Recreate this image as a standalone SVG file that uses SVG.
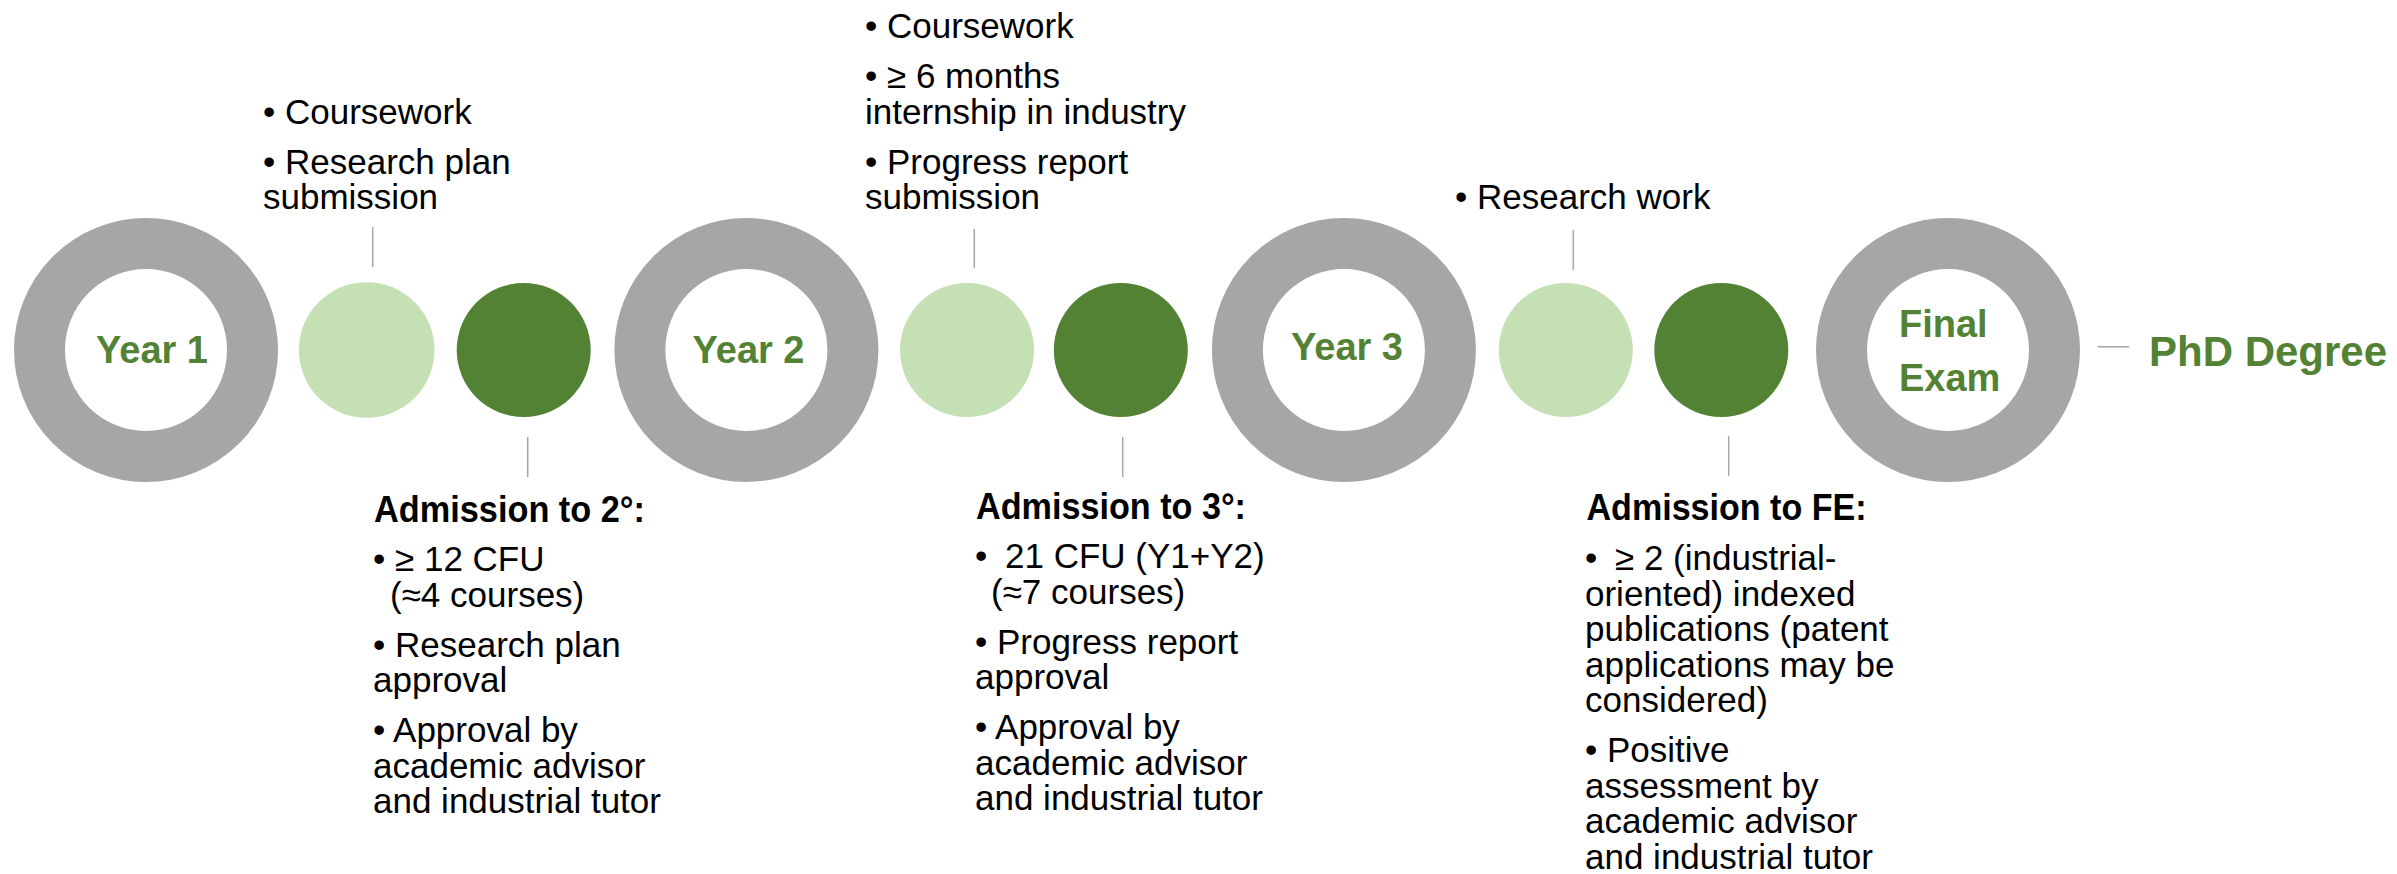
<svg xmlns="http://www.w3.org/2000/svg" width="2397" height="874" viewBox="0 0 2397 874">
<style>
.ring{fill:#fff;stroke:#a6a6a6;stroke-width:51}
.light{fill:#c5e0b4}
.dark{fill:#548235}
.lbl{font-family:"Liberation Sans",Arial,sans-serif;font-weight:bold;font-size:38px;fill:#548235}
.txt{font-family:"Liberation Sans",Arial,sans-serif;font-size:35px;fill:#000}
.hd{font-family:"Liberation Sans",Arial,sans-serif;font-weight:bold;font-size:36px;fill:#000}
.con{stroke:#a6a6a6;stroke-width:1.5;fill:none}
</style>
<rect width="2397" height="874" fill="#fff"/>
<g id="connectors">
<line class="con" x1="372.7" y1="227" x2="372.7" y2="267"/>
<line class="con" x1="527.7" y1="437" x2="527.7" y2="477"/>
<line class="con" x1="974.3" y1="229" x2="974.3" y2="268"/>
<line class="con" x1="1122.7" y1="437" x2="1122.7" y2="477"/>
<line class="con" x1="1573.3" y1="230" x2="1573.3" y2="270"/>
<line class="con" x1="1728.7" y1="436" x2="1728.7" y2="476"/>
<line class="con" x1="2097.7" y1="346.7" x2="2129.3" y2="346.7"/>
</g>
<g id="year1">
<circle class="ring" cx="146" cy="350" r="106.5"/>
<text class="lbl" x="96" y="363">Year 1</text>
</g>
<g id="step1a"><circle class="light" cx="366.7" cy="350" r="67.8"/></g>
<g id="step1b"><circle class="dark" cx="523.7" cy="350" r="67"/></g>
<g id="year2">
<circle class="ring" cx="746.4" cy="350" r="106.5"/>
<text class="lbl" x="692.5" y="363">Year 2</text>
</g>
<g id="step2a"><circle class="light" cx="967" cy="350" r="67"/></g>
<g id="step2b"><circle class="dark" cx="1120.8" cy="350" r="67"/></g>
<g id="year3">
<circle class="ring" cx="1343.9" cy="350" r="106.5"/>
<text class="lbl" x="1291" y="360">Year 3</text>
</g>
<g id="step3a"><circle class="light" cx="1565.8" cy="350" r="67"/></g>
<g id="step3b"><circle class="dark" cx="1721.3" cy="350" r="67"/></g>
<g id="final">
<circle class="ring" cx="1948" cy="350" r="106.5"/>
<text class="lbl" x="1899" y="337">Final</text>
<text class="lbl" x="1899" y="391">Exam</text>
</g>
<g id="phd">
<text class="lbl" x="2149" y="366" style="font-size:43px" textLength="238" lengthAdjust="spacingAndGlyphs">PhD Degree</text>
</g>
<g id="top1">
<text class="txt" x="263" y="123.5">• Coursework</text>
<text class="txt" x="263" y="173.5">• Research plan</text>
<text class="txt" x="263" y="209">submission</text>
</g>
<g id="top2">
<text class="txt" x="865" y="38">• Coursework</text>
<text class="txt" x="865" y="88">• ≥ 6 months</text>
<text class="txt" x="865" y="123.5">internship in industry</text>
<text class="txt" x="865" y="173.5">• Progress report</text>
<text class="txt" x="865" y="209">submission</text>
</g>
<g id="top3">
<text class="txt" x="1455" y="208.5">• Research work</text>
</g>
<g id="bottom1">
<text class="hd" x="374" y="522" textLength="271" lengthAdjust="spacingAndGlyphs">Admission to 2°:</text>
<text class="txt" x="373" y="571">• ≥ 12 CFU</text>
<text class="txt" x="390" y="606.5">(≈4 courses)</text>
<text class="txt" x="373" y="656.5">• Research plan</text>
<text class="txt" x="373" y="692">approval</text>
<text class="txt" x="373" y="742">• Approval by</text>
<text class="txt" x="373" y="777.5">academic advisor</text>
<text class="txt" x="373" y="813">and industrial tutor</text>
</g>
<g id="bottom2">
<text class="hd" x="976" y="519" textLength="270" lengthAdjust="spacingAndGlyphs">Admission to 3°:</text>
<text class="txt" x="975" y="568">•</text>
<text class="txt" x="1005" y="568">21 CFU (Y1+Y2)</text>
<text class="txt" x="991" y="603.5">(≈7 courses)</text>
<text class="txt" x="975" y="653.5">• Progress report</text>
<text class="txt" x="975" y="689">approval</text>
<text class="txt" x="975" y="739">• Approval by</text>
<text class="txt" x="975" y="774.5">academic advisor</text>
<text class="txt" x="975" y="810">and industrial tutor</text>
</g>
<g id="bottom3">
<text class="hd" x="1586.5" y="520" textLength="280" lengthAdjust="spacingAndGlyphs">Admission to FE:</text>
<text class="txt" x="1585" y="570">•</text>
<text class="txt" x="1615" y="570">≥ 2 (industrial-</text>
<text class="txt" x="1585" y="605.5">oriented) indexed</text>
<text class="txt" x="1585" y="641">publications (patent</text>
<text class="txt" x="1585" y="676.5">applications may be</text>
<text class="txt" x="1585" y="712">considered)</text>
<text class="txt" x="1585" y="762">• Positive</text>
<text class="txt" x="1585" y="797.5">assessment by</text>
<text class="txt" x="1585" y="833">academic advisor</text>
<text class="txt" x="1585" y="868.5">and industrial tutor</text>
</g>
</svg>
